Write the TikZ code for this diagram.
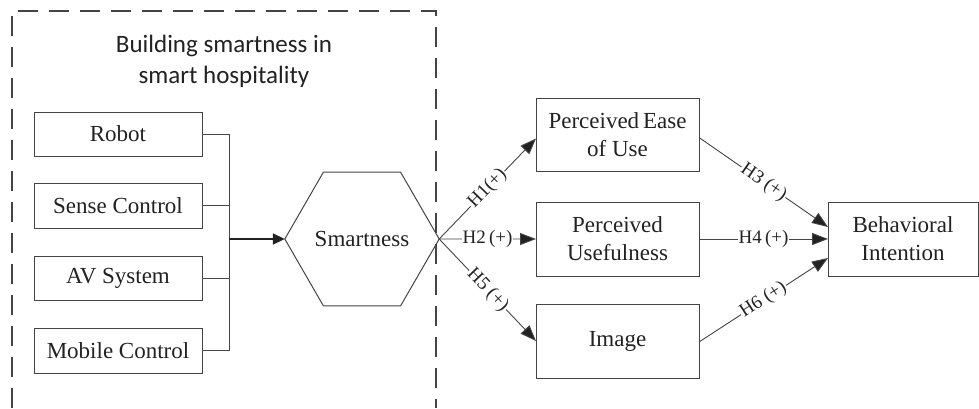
\documentclass[tikz,border=0pt]{standalone}
\usepackage{fontspec}
\setmainfont{Liberation Serif}[Ligatures=TeX]
\newfontfamily\titlefont{Carlito}
\newfontfamily\boxfont{Liberation Serif}
\usetikzlibrary{shapes.geometric,arrows.meta}
\definecolor{ink}{HTML}{222222}
\definecolor{edge}{HTML}{444444}
\tikzset{
  box/.style={draw=edge, line width=1pt, rectangle, inner sep=0pt, outer sep=0pt,
    minimum width=168pt, minimum height=44pt, text=ink, font=\boxfont\fontsize{23}{28}\selectfont, align=center},
  rbox/.style={box, minimum width=163pt, minimum height=74pt},
  conn/.style={draw=edge, line width=0.9pt},
  arr/.style={conn, -{Triangle[length=16pt,width=12pt,fill=ink]}},
  hlab/.style={fill=white, inner sep=1pt, text=ink, font=\boxfont\fontsize{19}{22}\selectfont, sloped},
}
\begin{document}
\begin{tikzpicture}[x=1pt,y=-1pt]
\useasboundingbox (0,0) rectangle (979,408);
% dashed frame
\draw[edge, line width=1.4pt, dash pattern=on 20pt off 11pt] (12,408) -- (12,11) -- (436,11) -- (436,408);
\node[text=ink, align=center, font=\titlefont\fontsize{25}{31}\selectfont] (title) at (224,61) {Building smartness in\\smart hospitality};
% left boxes
\node[box] (robot) at (118,134) {Robot};
\node[box, minimum height=45pt] (sense) at (118,205.5) {Sense Control};
\node[box] (av) at (118,278) {AV System};
\node[box, minimum height=45pt] (mobile) at (118,350.5) {Mobile Control};
% hexagon
\node[draw=edge, line width=1pt, regular polygon, regular polygon sides=6, minimum size=148pt,
  inner sep=0pt, outer sep=0pt, text=ink, font=\boxfont\fontsize{23}{28}\selectfont] (hex) at (362,239) {Smartness};
% bus
\coordinate (bt) at (229,134);
\coordinate (bb) at (229,350.5);
\draw[conn] (robot.east) -- (bt) -- (bb) -- (mobile.east);
\draw[conn] (sense.east) -- (sense.east -| bt);
\draw[conn] (av.east) -- (av.east -| bt);
\draw[draw=ink, line width=1.8pt, -{Triangle[length=12pt,width=11pt,fill=ink]}] (hex.west -| bt) -- (hex.west);
% right boxes
\node[rbox, minimum height=73pt] (peu) at (617.5,134.5) {Perceived\,Ease\\of Use};
\node[rbox] (pu) at (617.5,239) {Perceived\\Usefulness};
\node[rbox] (img) at (617.5,341) {Image};
\node[rbox, minimum width=150pt] (bi) at (903,239) {Behavioral\\Intention};
% hypotheses
\draw[arr] (hex.east) -- node[hlab] {H1(+)} ([yshift=-4pt]peu.west);
\draw[arr] (hex.east) -- node[hlab] {H2\,(+)} (pu.west);
\draw[arr] (hex.east) -- node[hlab] {H5 (+)} (img.west);
\draw[arr] ([yshift=-3pt]peu.east) -- node[hlab] {H3 (+)} ([yshift=12pt]bi.west);
\draw[arr] (pu.east) -- node[hlab] {H4\,(+)} (bi.west);
\draw[arr] ([yshift=-1pt]img.east) -- node[hlab] {H6 (+)} ([yshift=-19pt]bi.west);
\end{tikzpicture}
\end{document}
